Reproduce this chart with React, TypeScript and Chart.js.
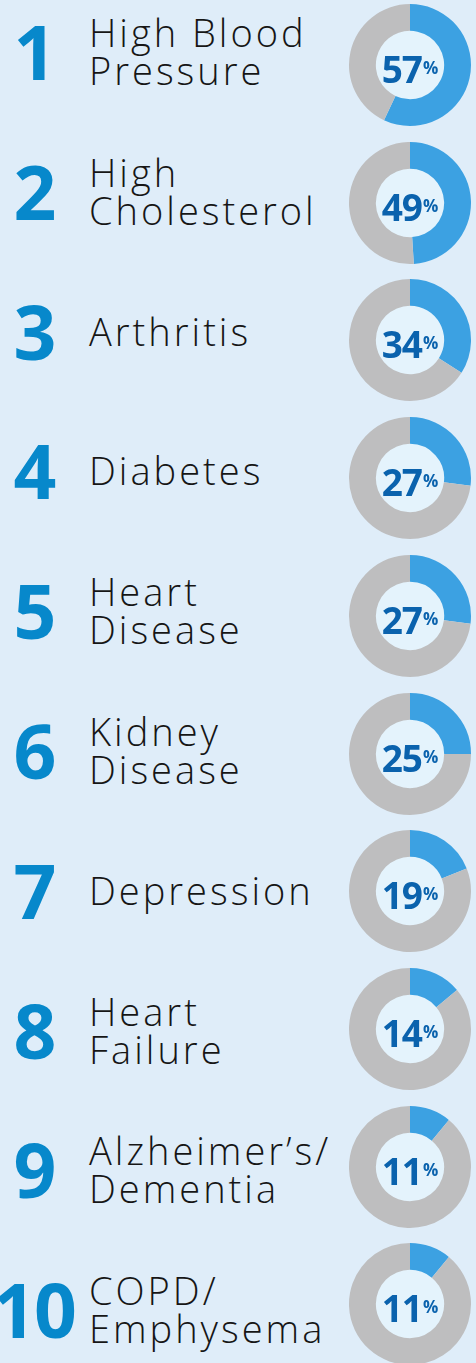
import React, { useEffect, useRef } from "react";
import { Chart, registerables } from "chart.js";

Chart.register(...registerables);

// ---- data ----
const ranks: string[] = ["1", "2", "3", "4", "5", "6", "7", "8", "9", "10"];
const conditions: string[] = [
  "High Blood\nPressure",
  "High\nCholesterol",
  "Arthritis",
  "Diabetes",
  "Heart\nDisease",
  "Kidney\nDisease",
  "Depression",
  "Heart\nFailure",
  "Alzheimer’s/\nDementia",
  "COPD/\nEmphysema",
];
const percentages: number[] = [57, 49, 34, 27, 27, 25, 19, 14, 11, 11];

// ---- styles ----
const PAGE_W = 476;
const PAGE_H = 1363;
const BG = "#dfedf9";
const INNER = "#e4f3fc";
const BLUE = "#3ca1e2";
const GRAY = "#bebebf";
const RANK_BLUE = "#0788cb";
const PCT_BLUE = "#0a62ad";
const LABEL_COLOR = "#161616";

const TEXT_Y0 = 51;
const TEXT_STEP = 139.8;
const DONUT_Y0 = 65;
const DONUT_STEP = 137.7;
const DONUT_CX = 409.5;
const CANVAS = 124;

const centerPlugin = {
  id: "centerLabel",
  beforeDatasetsDraw(chart: any) {
    const arc = chart.getDatasetMeta(0).data[0];
    if (!arc) return;
    const { x, y, innerRadius } = arc.getProps(["x", "y", "innerRadius"], true);
    const ctx = chart.ctx;
    ctx.save();
    ctx.fillStyle = INNER;
    ctx.beginPath();
    ctx.arc(x, y, innerRadius + 0.5, 0, Math.PI * 2);
    ctx.fill();
    ctx.restore();
  },
  afterDatasetsDraw(chart: any) {
    const arc = chart.getDatasetMeta(0).data[0];
    if (!arc) return;
    const { x, y } = arc.getProps(["x", "y"], true);
    const value = String(chart.data.datasets[0].data[0]);
    const ctx = chart.ctx;
    ctx.save();
    ctx.fillStyle = PCT_BLUE;
    ctx.textBaseline = "alphabetic";
    ctx.textAlign = "left";
    const numFont = "700 37px 'Open Sans'";
    const pctFont = "700 17px 'Open Sans'";
    ctx.font = numFont;
    (ctx as any).letterSpacing = "-1px";
    const numW = ctx.measureText(value).width;
    ctx.font = pctFont;
    (ctx as any).letterSpacing = "0px";
    const pctW = ctx.measureText("%").width;
    const total = numW + 1 + pctW;
    const sx = x - total / 2;
    ctx.font = numFont;
    (ctx as any).letterSpacing = "-1px";
    ctx.fillText(value, sx, y + 17.5);
    ctx.font = pctFont;
    (ctx as any).letterSpacing = "0px";
    ctx.fillText("%", sx + numW + 1, y + 8.5);
    ctx.restore();
  },
};

function Donut({ value, cy }: { value: number; cy: number }) {
  const ref = useRef<HTMLCanvasElement>(null);
  useEffect(() => {
    const chart = new Chart(ref.current as HTMLCanvasElement, {
      type: "doughnut",
      data: {
        labels: ["Has condition", "Other"],
        datasets: [
          {
            data: [value, 100 - value],
            backgroundColor: [BLUE, GRAY],
            borderWidth: 0,
            hoverOffset: 0,
          },
        ],
      },
      options: {
        responsive: false,
        animation: false,
        cutout: "56%",
        layout: { padding: 1 },
        events: [],
        plugins: { legend: { display: false }, tooltip: { enabled: false } },
      },
      plugins: [centerPlugin],
    } as any);
    return () => chart.destroy();
  }, [value]);
  return (
    <canvas
      ref={ref}
      width={CANVAS}
      height={CANVAS}
      style={{
        position: "absolute",
        left: DONUT_CX - CANVAS / 2,
        top: cy - CANVAS / 2,
        width: CANVAS,
        height: CANVAS,
      }}
    />
  );
}

export default function App() {
  return (
    <div
      style={{
        position: "absolute",
        left: 0,
        top: 0,
        width: PAGE_W,
        height: PAGE_H,
        background: BG,
        overflow: "hidden",
      }}
    >
      {ranks.map((r, i) => {
        const ty = TEXT_Y0 + i * TEXT_STEP;
        const dy = DONUT_Y0 + i * DONUT_STEP;
        return (
          <React.Fragment key={r}>
            <div
              style={{
                position: "absolute",
                left: 34,
                top: ty,
                transform: "translate(-50%, -50%)",
                fontFamily: "'Open Sans'",
                fontWeight: 700,
                fontSize: 75,
                lineHeight: "76px",
                color: RANK_BLUE,
                letterSpacing: -2,
                whiteSpace: "nowrap",
              }}
            >
              {r}
            </div>
            <div
              style={{
                position: "absolute",
                left: 89,
                top: ty,
                transform: "translateY(-50%)",
                fontFamily: "'Open Sans'",
                fontWeight: 300,
                fontSize: 38,
                lineHeight: "38px",
                color: LABEL_COLOR,
                whiteSpace: "pre",
                letterSpacing: 3,
              }}
            >
              {conditions[i]}
            </div>
            <Donut value={percentages[i]} cy={dy} />
          </React.Fragment>
        );
      })}
    </div>
  );
}
